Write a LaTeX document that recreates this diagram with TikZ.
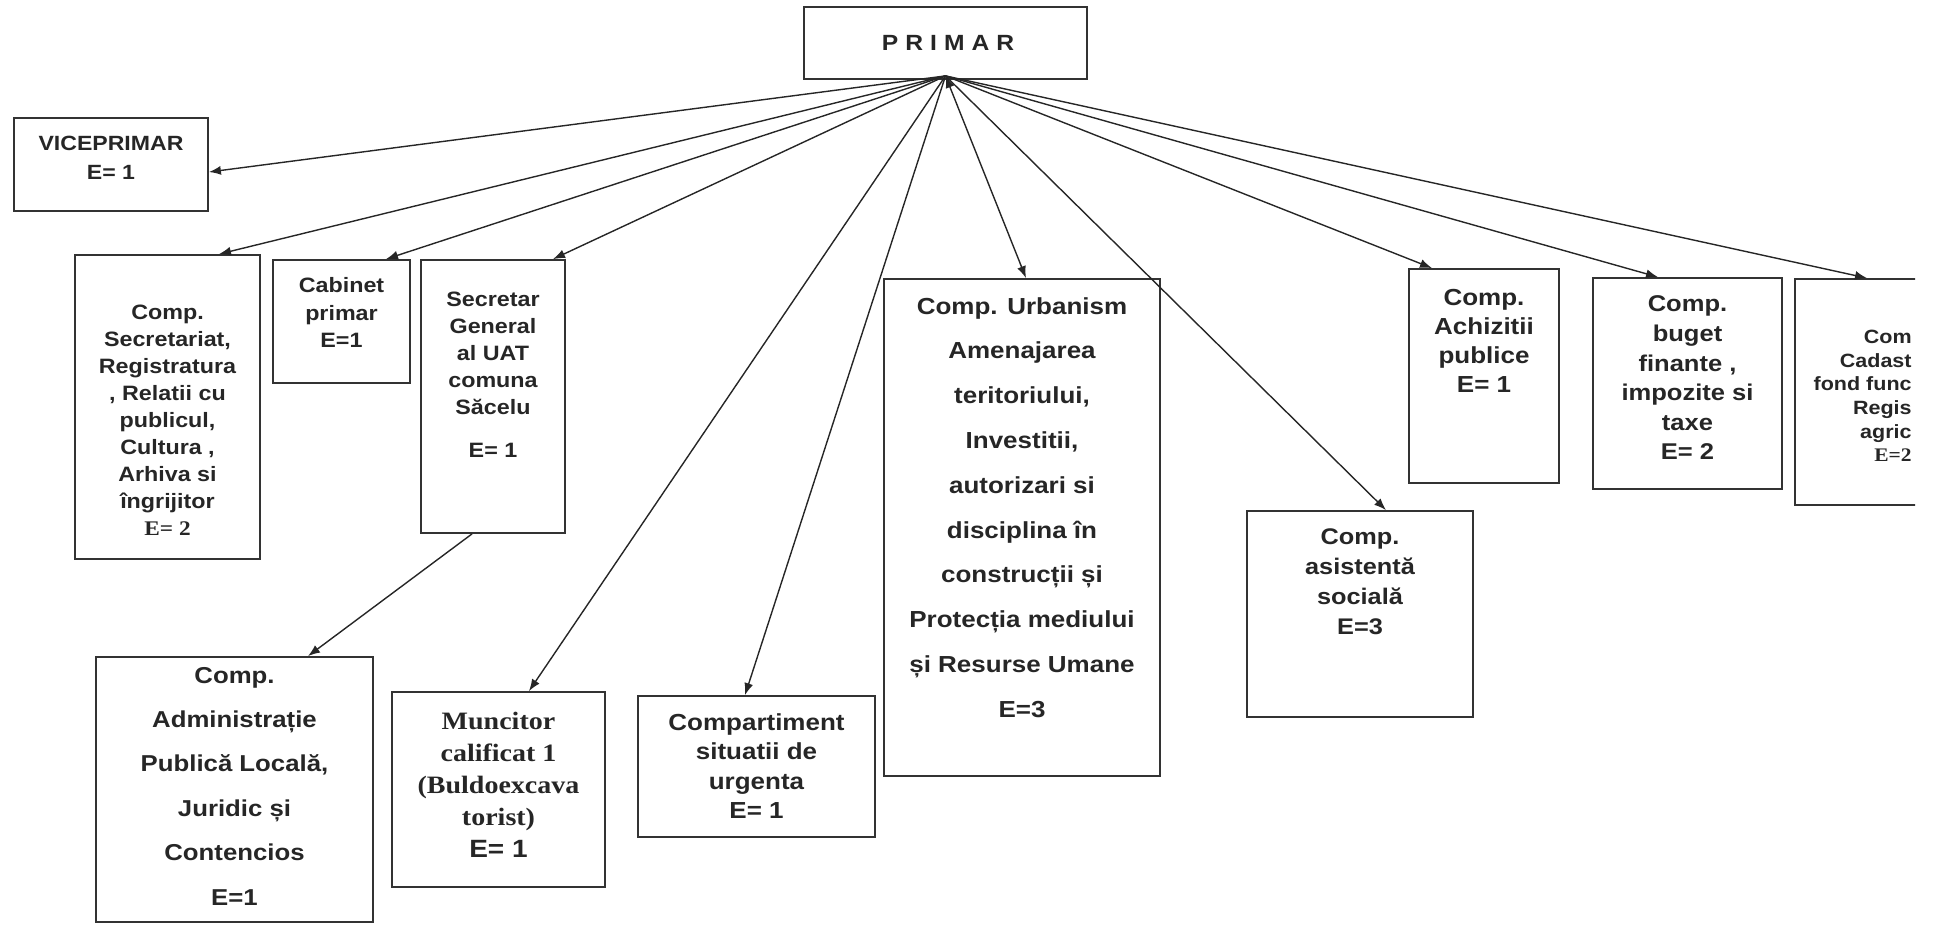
\documentclass[tikz,border=0pt]{standalone}
\usepackage{fontspec}
\setmainfont{Liberation Serif}[FakeStretch=1.12]
\setsansfont{Liberation Sans}[FakeStretch=1.12]
\usetikzlibrary{arrows.meta}

\tikzset{
  unit/.style={draw=black!80, line width=0.9pt, inner sep=0pt},
  lbl/.style={align=center, inner sep=0pt, text=black!85},
  link/.style={->, black!85, line width=0.7pt},
  >={Latex[length=6pt,width=4.5pt]}
}
\newcommand{\sfs}[2]{\sffamily\bfseries\fontsize{#1}{#2}\selectfont}
\newcommand{\rms}[2]{\rmfamily\bfseries\fontsize{#1}{#2}\selectfont}

\begin{document}
\begin{tikzpicture}[x=0.5pt,y=-0.5pt]
    \useasboundingbox (0,0) rectangle (1937,926);

    % boxes
    \node[unit, minimum width=141.5pt, minimum height=36pt] (primar) at (945.5,43) {};
    \node[unit, minimum width=97pt, minimum height=46.5pt] (vice) at (111,164.5) {};
    \node[unit, minimum width=92.5pt, minimum height=152pt] (secr) at (167.5,407) {};
    \node[unit, minimum width=68.5pt, minimum height=61.5pt] (cab) at (341.5,321.5) {};
    \node[unit, minimum width=72pt, minimum height=136.5pt] (sg) at (493,396.5) {};
    \node[unit, minimum width=138.5pt, minimum height=132.5pt] (admin) at (234.5,789.5) {};
    \node[unit, minimum width=106.5pt, minimum height=97.5pt] (munc) at (498.5,789.5) {};
    \node[unit, minimum width=118.5pt, minimum height=70.5pt] (urg) at (756.5,766.5) {};
    \node[unit, minimum width=138pt, minimum height=248.5pt] (urb) at (1022,527.5) {};
    \node[unit, minimum width=113pt, minimum height=103pt] (asist) at (1360,614) {};
    \node[unit, minimum width=75pt, minimum height=107pt] (achiz) at (1484,376) {};
    \node[unit, minimum width=94.5pt, minimum height=105.5pt] (buget) at (1687.5,383.5) {};
    \begin{scope}
      \clip (0,0) rectangle (1915,926);
      \node[unit, minimum width=95pt, minimum height=113pt] (cad) at (1890,392) {};
    \end{scope}

    % texts
    \node[lbl, font=\sfs{11}{13}\addfontfeatures{LetterSpace=32}] (primarT) at (948,43) {PRIMAR};
    \node[lbl, font=\sfs{10.3}{14.5}] (viceT) at (111,157.5) {VICEPRIMAR\\ E= 1};
    \node[lbl, font=\sfs{10.4}{13.5}] (secrT) at (167.5,420)
      {Comp.\\ Secretariat,\\ Registratura\\ , Relatii cu\\ publicul,\\ Cultura ,\\ Arhiva si\\ îngrijitor\\ {\rmfamily E= 2}};
    \node[lbl, font=\sfs{10.4}{13.7}] (cabT) at (341.5,312.5) {Cabinet\\ primar\\ E=1};
    \node[lbl, font=\sfs{10.4}{13.5}] (sgT) at (493,375)
      {Secretar\\ General\\ al UAT\\ comuna\\ Săcelu\\[8pt] E= 1};
    \node[lbl, font=\sfs{11.5}{22.2}] (adminT) at (234.5,786)
      {Comp.\\ Administrație\\ Publică Locală,\\ Juridic și\\ Contencios\\ E=1};
    \node[lbl, font=\rms{12.5}{16}] (muncT) at (498.5,784.5)
      {Muncitor\\ calificat 1\\ (Buldoexcava\\ torist)\\ {\sffamily E= 1}};
    \node[lbl, font=\sfs{11.6}{14.7}] (urgT) at (756.5,766)
      {Compartiment\\ situatii de\\ urgenta\\ E= 1};
    \node[lbl, font=\sfs{11.6}{22.4}] (urbT) at (1022,507.5)
      {Comp. Urbanism\\ Amenajarea\\ teritoriului,\\ Investitii,\\ autorizari si\\ disciplina în\\ construcții și\\ Protecția mediului\\ și Resurse Umane\\ E=3};
    \node[lbl, font=\sfs{11.3}{15}] (asistT) at (1360,582) {Comp.\\ asistentă\\ socială\\ E=3};
    \node[lbl, font=\sfs{11.6}{14.6}] (achizT) at (1484,341) {Comp.\\ Achizitii\\ publice\\ E= 1};
    \node[lbl, font=\sfs{11.4}{14.8}] (bugetT) at (1687.5,378)
      {Comp.\\ buget\\ finante ,\\ impozite si\\ taxe\\ E= 2};
    \node[lbl, align=right, anchor=east, font=\sfs{9.6}{11.8}] (cadT) at (1912,396)
      {Com\\ Cadast\\ fond func\\ Regis\\ agric\\ {\rmfamily E=2}};

    \coordinate (hub) at ([yshift=2pt]primar.south);

    % connectors
    \draw[link] (hub) -- ([yshift=-3.75pt]vice.east);
    \draw[link] (hub) -- ([xshift=25.75pt]secr.north);
    \draw[link] (hub) -- ([xshift=22.25pt]cab.north);
    \draw[link] (hub) -- ([xshift=30pt]sg.north);
    \draw[link] (hub) -- ([xshift=15.25pt]munc.north);
    \draw[link] (hub) -- ([xshift=-5.75pt]urg.north);
    \draw[link,<->] (hub) -- ([xshift=2pt]urb.north);
    \draw[link] (hub) -- ([xshift=13pt]asist.north);
    \draw[link] (hub) -- ([xshift=-26pt]achiz.north);
    \draw[link] (hub) -- ([xshift=-14.75pt]buget.north);
    \draw[link] (hub) -- ([xshift=-11.5pt]cad.north);
    \draw[link] ([xshift=-10.5pt]sg.south) -- ([xshift=36.75pt]admin.north);
\end{tikzpicture}
\end{document}
